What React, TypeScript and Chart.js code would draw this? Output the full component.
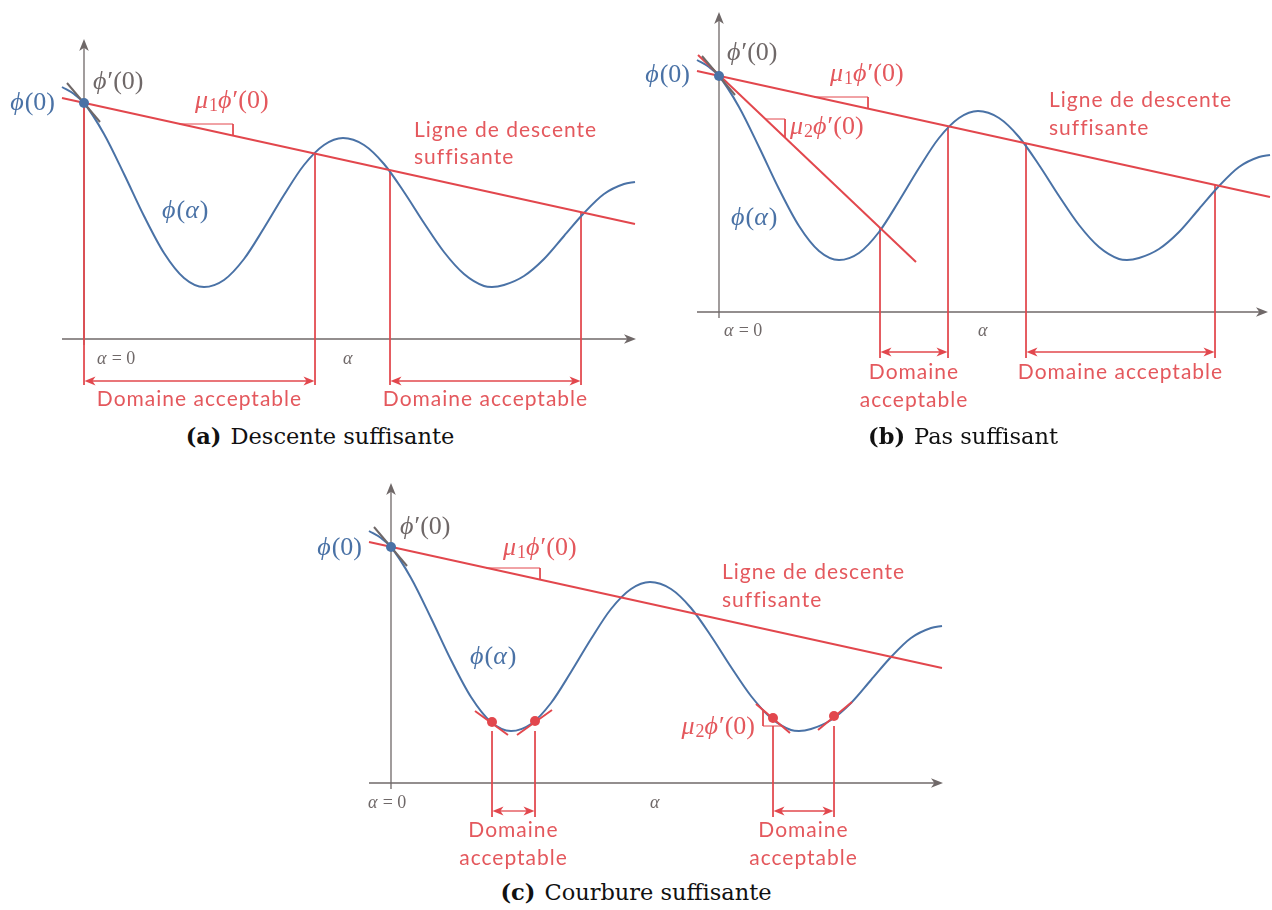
import React, { useEffect, useRef } from 'react';
import { Chart, registerables } from 'chart.js';
Chart.register(...registerables);

const BLUE = '#4a72a6';
const RED = '#e2474d';
const RED_TEXT = '#e4585d';
const GRAY = '#6f6868';
const MATH = "'Liberation Serif', 'DejaVu Serif', serif";
const CAPTION = "'DejaVu Serif', 'Liberation Serif', serif";
const SANS = "Lato, 'Noto Sans', sans-serif";

// φ(α) curve (same shape in the three panels)
const curveAlpha = [-0.22, -0.1, 0, 0.2, 0.4, 0.6, 0.8, 1.0, 1.2, 1.4, 1.6, 1.8, 2.0, 2.2, 2.4, 2.59, 2.8, 3.0, 3.2, 3.4, 3.6, 3.8, 4.0, 4.08, 4.2, 4.4, 4.6, 4.8, 5.0, 5.2, 5.4, 5.51];
const curvePhi = [2.52, 2.45, 2.36, 2.05, 1.65, 1.23, 0.86, 0.61, 0.52, 0.59, 0.8, 1.11, 1.44, 1.74, 1.94, 2.01, 1.94, 1.75, 1.47, 1.16, 0.87, 0.65, 0.53, 0.52, 0.54, 0.63, 0.8, 1.03, 1.26, 1.45, 1.55, 1.57];

// sufficient-descent line  φ(0) + μ1 φ'(0) α
const descentAlpha = [-0.22, 5.51];
const descentPhi = [2.41, 1.15];
// tangent at 0 : φ'(0)
const tangentAlpha = [-0.17, 0.16];
const tangentPhi = [2.56, 2.17];
// μ2 φ'(0) line (panel b)
const mu2Alpha = [-0.21, 1.97];
const mu2Phi = [2.57, 0.5];
// slope marks
const mu1TriAlpha = [0.95, 1.49, 1.49];
const mu1TriPhi = [2.15, 2.15, 2.03];
const mu2TriAlphaB = [0.46, 0.66, 0.66];
const mu2TriPhiB = [1.93, 1.93, 1.74];
const mu2TriAlphaC = [3.72, 3.72, 3.91];
const mu2TriPhiC = [0.72, 0.57, 0.57];

// acceptable-domain bounds
const boundsA = [0, 2.31, 3.06, 4.97];
const topsA = [2.36, 1.85, 1.69, 1.27];
const boundsB = [1.61, 2.29, 3.07, 4.96];
const topsB = [0.84, 1.86, 1.69, 1.27];
const boundsC = [1.01, 1.44, 3.82, 4.43];
const topsC = [0.52, 0.52, 0.57, 0.57];

// curvature points and their tangents (panel c)
const curvAlpha = [1.01, 1.44, 3.82, 4.43];
const curvPhi = [0.61, 0.62, 0.65, 0.67];
const curvTanAlpha = [[0.84, 1.17], [1.26, 1.61], [3.65, 3.99], [4.27, 4.61]];
const curvTanPhi = [[0.72, 0.48], [0.48, 0.73], [0.79, 0.5], [0.53, 0.81]];

const domainText = 'Domaine acceptable';
const descentText = ['Ligne de descente', 'suffisante'];

type Part = { t: string; s: 'i' | 'r' | 'sub' };
const PHI0: Part[] = [{ t: 'ϕ', s: 'i' }, { t: '(0)', s: 'r' }];
const DPHI0: Part[] = [{ t: 'ϕ', s: 'i' }, { t: '′(0)', s: 'r' }];
const MU1: Part[] = [{ t: 'μ', s: 'i' }, { t: '1', s: 'sub' }, { t: 'ϕ', s: 'i' }, { t: '′(0)', s: 'r' }];
const MU2: Part[] = [{ t: 'μ', s: 'i' }, { t: '2', s: 'sub' }, { t: 'ϕ', s: 'i' }, { t: '′(0)', s: 'r' }];
const PHIA: Part[] = [{ t: 'ϕ', s: 'i' }, { t: '(', s: 'r' }, { t: 'α', s: 'i' }, { t: ')', s: 'r' }];
const ALPHA0: Part[] = [{ t: 'α', s: 'i' }, { t: ' = 0', s: 'r' }];
const ALPHA: Part[] = [{ t: 'α', s: 'i' }];

type Label = { a: number; p: number; parts?: Part[]; sans?: string; align?: CanvasTextAlign; color: string; size: number };

function pts(xs: number[], ys: number[]) {
  return xs.map((x, i) => ({ x, y: ys[i] }));
}

function stealth(ctx: CanvasRenderingContext2D, tx: number, ty: number, dx: number, dy: number, L: number, W: number, color: string) {
  const len = Math.hypot(dx, dy);
  const ux = dx / len, uy = dy / len, px = -uy, py = ux;
  ctx.beginPath();
  ctx.moveTo(tx, ty);
  ctx.lineTo(tx - ux * L + px * W, ty - uy * L + py * W);
  ctx.lineTo(tx - ux * L * 0.72, ty - uy * L * 0.72);
  ctx.lineTo(tx - ux * L - px * W, ty - uy * L - py * W);
  ctx.closePath();
  ctx.fillStyle = color;
  ctx.fill();
}

function fontFor(s: string, size: number) {
  if (s === 'i') return `italic ${size}px ${MATH}`;
  if (s === 'sub') return `${Math.round(size * 0.68)}px ${MATH}`;
  return `${size}px ${MATH}`;
}

function drawRich(ctx: CanvasRenderingContext2D, x: number, y: number, parts: Part[], align: CanvasTextAlign, color: string, size: number) {
  let total = 0;
  const widths = parts.map((p) => {
    ctx.font = fontFor(p.s, size);
    const w = ctx.measureText(p.t).width + (p.s === 'i' ? size * 0.04 : 0);
    total += w;
    return w;
  });
  let cx = align === 'right' ? x - total : align === 'center' ? x - total / 2 : x;
  ctx.fillStyle = color;
  ctx.textAlign = 'left';
  ctx.textBaseline = 'middle';
  parts.forEach((p, i) => {
    ctx.font = fontFor(p.s, size);
    ctx.fillText(p.t, cx, p.s === 'sub' ? y + size * 0.22 : y);
    cx += widths[i];
  });
}

type PanelCfg = {
  id: string;
  left: number; top: number; w: number; h: number; ox: number; oy: number;
  axisEnd: number;
  bounds: number[]; tops: number[]; boundBottom: number; arrowPhi: number;
  domainLines: string[][]; domainPhi: number; domainStep: number;
  labels: Label[];
  mu2Line?: boolean; mu2Tri?: [number[], number[]];
  curvature?: boolean;
};

const M = 26, S = 18, T = 21;

const panels: PanelCfg[] = [
  {
    id: 'a', left: 0, top: 0, w: 645, h: 420, ox: 84, oy: 339, axisEnd: 5.52,
    bounds: boundsA, tops: topsA, boundBottom: -0.46, arrowPhi: -0.42,
    domainLines: [[domainText], [domainText]], domainPhi: -0.6, domainStep: 0.28,
    labels: [
      { a: -0.29, p: 2.36, parts: PHI0, align: 'right', color: BLUE, size: M },
      { a: 0.09, p: 2.57, parts: DPHI0, align: 'left', color: GRAY, size: M },
      { a: 1.11, p: 2.38, parts: MU1, align: 'left', color: RED_TEXT, size: M },
      { a: 0.78, p: 1.28, parts: PHIA, align: 'left', color: BLUE, size: M },
      { a: 3.3, p: 2.09, sans: descentText[0], align: 'left', color: RED_TEXT, size: T },
      { a: 3.3, p: 1.82, sans: descentText[1], align: 'left', color: RED_TEXT, size: T },
      { a: 0.13, p: -0.2, parts: ALPHA0, align: 'left', color: GRAY, size: S },
      { a: 2.64, p: -0.2, parts: ALPHA, align: 'center', color: GRAY, size: S },
    ],
  },
  {
    id: 'b', left: 640, top: 0, w: 632, h: 420, ox: 719, oy: 312, axisEnd: 5.49,
    bounds: boundsB, tops: topsB, boundBottom: -0.46, arrowPhi: -0.4,
    domainLines: [['Domaine', 'acceptable'], [domainText]], domainPhi: -0.6, domainStep: 0.28,
    mu2Line: true, mu2Tri: [mu2TriAlphaB, mu2TriPhiB],
    labels: [
      { a: -0.29, p: 2.37, parts: PHI0, align: 'right', color: BLUE, size: M },
      { a: 0.08, p: 2.59, parts: DPHI0, align: 'left', color: GRAY, size: M },
      { a: 1.11, p: 2.38, parts: MU1, align: 'left', color: RED_TEXT, size: M },
      { a: 0.71, p: 1.85, parts: MU2, align: 'left', color: RED_TEXT, size: M },
      { a: 0.12, p: 0.94, parts: PHIA, align: 'left', color: BLUE, size: M },
      { a: 3.3, p: 2.12, sans: descentText[0], align: 'left', color: RED_TEXT, size: T },
      { a: 3.3, p: 1.84, sans: descentText[1], align: 'left', color: RED_TEXT, size: T },
      { a: 0.05, p: -0.19, parts: ALPHA0, align: 'left', color: GRAY, size: S },
      { a: 2.64, p: -0.19, parts: ALPHA, align: 'center', color: GRAY, size: S },
    ],
  },
  {
    id: 'c', left: 300, top: 465, w: 660, h: 410, ox: 391, oy: 783, axisEnd: 5.52,
    bounds: boundsC, tops: topsC, boundBottom: -0.34, arrowPhi: -0.28,
    domainLines: [['Domaine', 'acceptable'], ['Domaine', 'acceptable']], domainPhi: -0.47, domainStep: 0.28,
    mu2Tri: [mu2TriAlphaC, mu2TriPhiC], curvature: true,
    labels: [
      { a: -0.29, p: 2.35, parts: PHI0, align: 'right', color: BLUE, size: M },
      { a: 0.09, p: 2.56, parts: DPHI0, align: 'left', color: GRAY, size: M },
      { a: 1.12, p: 2.35, parts: MU1, align: 'left', color: RED_TEXT, size: M },
      { a: 0.79, p: 1.26, parts: PHIA, align: 'left', color: BLUE, size: M },
      { a: 3.31, p: 2.11, sans: descentText[0], align: 'left', color: RED_TEXT, size: T },
      { a: 3.31, p: 1.83, sans: descentText[1], align: 'left', color: RED_TEXT, size: T },
      { a: 3.64, p: 0.56, parts: MU2, align: 'right', color: RED_TEXT, size: M },
      { a: -0.23, p: -0.2, parts: ALPHA0, align: 'left', color: GRAY, size: S },
      { a: 2.64, p: -0.2, parts: ALPHA, align: 'center', color: GRAY, size: S },
    ],
  },
];

function lineDs(data: { x: number; y: number }[], color: string, width: number, order: number, extra: any = {}) {
  return { data, borderColor: color, backgroundColor: color, borderWidth: width, pointRadius: 0, showLine: true, clip: false, order, ...extra };
}

function setSans(ctx: CanvasRenderingContext2D, size: number) {
  ctx.font = `${size}px ${SANS}`;
  (ctx as any).letterSpacing = '1px';
}

function buildConfig(cfg: PanelCfg): any {
  const datasets: any[] = [];
  cfg.bounds.forEach((b, i) => {
    datasets.push(lineDs(pts([b, b], [cfg.tops[i], cfg.boundBottom]), RED, 1, 20));
  });
  datasets.push(lineDs(pts(curveAlpha, curvePhi), BLUE, 2, 10, { cubicInterpolationMode: 'monotone' }));
  datasets.push(lineDs(pts(descentAlpha, descentPhi), RED, 2, 8));
  datasets.push(lineDs(pts(mu1TriAlpha, mu1TriPhi), RED, 1, 9));
  if (cfg.mu2Line) datasets.push(lineDs(pts(mu2Alpha, mu2Phi), RED, 2, 8));
  if (cfg.mu2Tri) datasets.push(lineDs(pts(cfg.mu2Tri[0], cfg.mu2Tri[1]), RED, 1, 9));
  datasets.push(lineDs(pts(tangentAlpha, tangentPhi), GRAY, 2, 6));
  if (cfg.curvature) {
    curvTanAlpha.forEach((xs, i) => datasets.push(lineDs(pts(xs, curvTanPhi[i]), RED, 2, 5)));
    datasets.push({ data: pts(curvAlpha, curvPhi), showLine: false, pointRadius: 5, pointBackgroundColor: RED, pointBorderWidth: 0, clip: false, order: 1 });
  }
  datasets.push({ data: [{ x: 0, y: 2.36 }], showLine: false, pointRadius: 5, pointBackgroundColor: BLUE, pointBorderWidth: 0, clip: false, order: 1 });

  const overlay = {
    id: 'overlay-' + cfg.id,
    beforeDatasetsDraw(chart: any) {
      const ctx: CanvasRenderingContext2D = chart.ctx;
      const xs = chart.scales.x, ys = chart.scales.y;
      const X = (v: number) => xs.getPixelForValue(v);
      const Y = (v: number) => ys.getPixelForValue(v);
      ctx.save();
      ctx.strokeStyle = GRAY;
      ctx.lineWidth = 1.3;
      ctx.beginPath();
      ctx.moveTo(X(-0.22), Y(0));
      ctx.lineTo(X(cfg.axisEnd) - 8, Y(0));
      ctx.stroke();
      stealth(ctx, X(cfg.axisEnd), Y(0), 1, 0, 12, 4.8, GRAY);
      ctx.beginPath();
      ctx.moveTo(X(0), Y(-0.06));
      ctx.lineTo(X(0), Y(3.0) + 8);
      ctx.stroke();
      stealth(ctx, X(0), Y(3.0), 0, -1, 12, 4.8, GRAY);
      ctx.restore();
    },
    afterDatasetsDraw(chart: any) {
      const ctx: CanvasRenderingContext2D = chart.ctx;
      const xs = chart.scales.x, ys = chart.scales.y;
      const X = (v: number) => xs.getPixelForValue(v);
      const Y = (v: number) => ys.getPixelForValue(v);
      ctx.save();
      for (let k = 0; k < cfg.bounds.length / 2; k++) {
        const a1 = cfg.bounds[2 * k], a2 = cfg.bounds[2 * k + 1];
        const y = Y(cfg.arrowPhi);
        ctx.strokeStyle = RED;
        ctx.lineWidth = 1.3;
        ctx.beginPath();
        ctx.moveTo(X(a1) + 6, y);
        ctx.lineTo(X(a2) - 6, y);
        ctx.stroke();
        stealth(ctx, X(a1) + 0.5, y, -1, 0, 11, 4.5, RED);
        stealth(ctx, X(a2) - 0.5, y, 1, 0, 11, 4.5, RED);
        const lines = cfg.domainLines[k];
        setSans(ctx, T);
        ctx.fillStyle = RED_TEXT;
        ctx.textAlign = 'center';
        ctx.textBaseline = 'middle';
        lines.forEach((ln, j) => ctx.fillText(ln, X((a1 + a2) / 2), Y(cfg.domainPhi - j * cfg.domainStep)));
        (ctx as any).letterSpacing = '0px';
      }
      cfg.labels.forEach((l) => {
        if (l.sans) {
          setSans(ctx, l.size);
          ctx.fillStyle = l.color;
          ctx.textAlign = l.align || 'left';
          ctx.textBaseline = 'middle';
          ctx.fillText(l.sans, X(l.a), Y(l.p));
          (ctx as any).letterSpacing = '0px';
        } else if (l.parts) {
          drawRich(ctx, X(l.a), Y(l.p), l.parts, l.align || 'left', l.color, l.size);
        }
      });
      ctx.restore();
    },
  };

  return {
    type: 'scatter',
    data: { datasets },
    options: {
      animation: false,
      responsive: false,
      devicePixelRatio: 1,
      events: [],
      layout: { padding: 0, autoPadding: false },
      plugins: { legend: { display: false }, tooltip: { enabled: false } },
      scales: {
        x: { type: 'linear', display: false, min: (cfg.left - cfg.ox) / 100, max: (cfg.left + cfg.w - cfg.ox) / 100 },
        y: { type: 'linear', display: false, min: (cfg.oy - cfg.top - cfg.h) / 100, max: (cfg.oy - cfg.top) / 100 },
      },
    },
    plugins: [overlay],
  };
}

function Panel({ cfg }: { cfg: PanelCfg }) {
  const ref = useRef<HTMLCanvasElement>(null);
  useEffect(() => {
    const chart = new Chart(ref.current as HTMLCanvasElement, buildConfig(cfg));
    return () => chart.destroy();
  }, [cfg]);
  return (
    <canvas
      ref={ref}
      width={cfg.w}
      height={cfg.h}
      style={{ position: 'absolute', left: cfg.left, top: cfg.top, width: cfg.w, height: cfg.h }}
    />
  );
}

const captions = [
  { tag: '(a)', text: 'Descente suffisante', cx: 320, cy: 436 },
  { tag: '(b)', text: 'Pas suffisant', cx: 963, cy: 436 },
  { tag: '(c)', text: 'Courbure suffisante', cx: 636, cy: 892 },
];

export default function App() {
  return (
    <div style={{ position: 'absolute', left: 0, top: 0, width: 1272, height: 910, background: '#fff', overflow: 'hidden' }}>
      {panels.map((p) => (
        <Panel key={p.id} cfg={p} />
      ))}
      {captions.map((c) => (
        <div
          key={c.tag}
          style={{
            position: 'absolute', left: c.cx - 250, width: 500, top: c.cy - 15, height: 30,
            textAlign: 'center', fontFamily: CAPTION, fontSize: 22.5, lineHeight: '30px', color: '#111',
          }}
        >
          <span style={{ fontWeight: 'bold', marginRight: 9 }}>{c.tag}</span>
          {c.text}
        </div>
      ))}
    </div>
  );
}
